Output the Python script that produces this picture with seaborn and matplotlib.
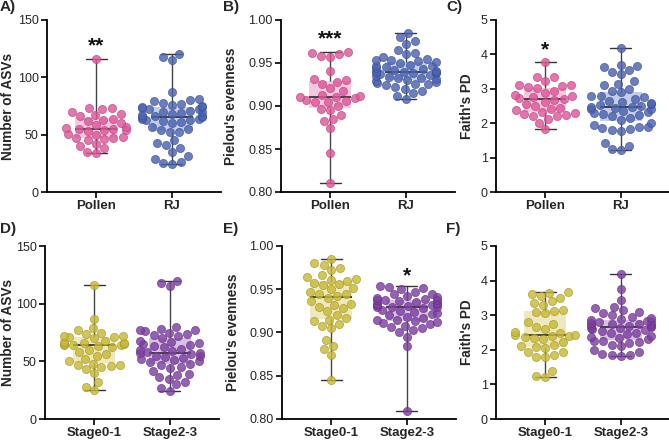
import numpy as np
import pandas as pd
import matplotlib
matplotlib.use("Agg")
import matplotlib.pyplot as plt
from matplotlib.colors import to_rgba
import seaborn as sns

# ---------------- data ----------------
pollen_asv = [34, 35, 38, 40, 42, 45, 46, 47, 47, 48, 50, 51, 53, 54, 54, 55,
              55, 56, 57, 58, 60, 62, 63, 64, 66, 67, 68, 70, 72, 73, 73, 116]
rj_asv = [24, 25, 26, 29, 31, 35, 38, 41, 43, 45, 52, 52, 54, 55, 57, 60,
          61, 62, 63, 63, 64, 64, 65, 65, 66, 66, 67, 68, 69, 70, 70, 71,
          72, 72, 73, 74, 74, 75, 76, 77, 78, 79, 80, 81, 87, 115, 118, 120]
pollen_pielou = [0.810, 0.845, 0.874, 0.882, 0.885, 0.890, 0.895, 0.897, 0.900,
                 0.905, 0.905, 0.906, 0.907, 0.909, 0.910, 0.911, 0.912, 0.913,
                 0.917, 0.921, 0.925, 0.928, 0.930, 0.931, 0.941, 0.957, 0.958,
                 0.960, 0.962, 0.963]
rj_pielou = [0.908, 0.912, 0.915, 0.918, 0.920, 0.922, 0.924, 0.925, 0.926, 0.927,
             0.928, 0.929, 0.930, 0.931, 0.932, 0.933, 0.934, 0.935, 0.936, 0.937,
             0.938, 0.938, 0.939, 0.939, 0.940, 0.940, 0.941, 0.942, 0.943, 0.944,
             0.945, 0.946, 0.947, 0.948, 0.950, 0.951, 0.952, 0.953, 0.954, 0.955,
             0.957, 0.960, 0.962, 0.965, 0.972, 0.975, 0.980, 0.985]
pollen_faith = [1.82, 2.02, 2.12, 2.20, 2.22, 2.25, 2.28, 2.30, 2.32, 2.38, 2.40,
                2.45, 2.50, 2.55, 2.62, 2.68, 2.70, 2.72, 2.75, 2.78, 2.82, 2.88,
                2.95, 3.02, 3.05, 3.08, 3.10, 3.12, 3.22, 3.33, 3.35, 3.77]
rj_faith = [1.22, 1.24, 1.35, 1.42, 1.78, 1.80, 1.82, 1.85, 1.88, 1.90, 1.95, 2.00,
            2.10, 2.15, 2.20, 2.25, 2.28, 2.30, 2.32, 2.35, 2.40, 2.42, 2.45, 2.46,
            2.48, 2.50, 2.52, 2.55, 2.58, 2.62, 2.65, 2.70, 2.75, 2.78, 2.80, 2.90,
            2.95, 3.00, 3.10, 3.15, 3.22, 3.42, 3.48, 3.55, 3.62, 3.66, 3.70, 4.20]

s01_asv = [25, 28, 32, 40, 43, 45, 46, 47, 47, 48, 50, 52, 55, 56, 58, 60, 62, 63,
           64, 64, 64, 65, 65, 66, 66, 67, 68, 70, 71, 71, 72, 72, 74, 75, 77, 79,
           87, 116]
s23_asv = [24, 27, 30, 32, 35, 36, 38, 39, 42, 44, 45, 47, 48, 49, 50, 51, 52, 53,
           54, 55, 55, 56, 57, 57, 58, 59, 60, 61, 62, 63, 64, 65, 66, 67, 68, 70,
           72, 73, 74, 75, 76, 77, 77, 78, 80, 115, 118, 120]
s01_pielou = [0.845, 0.874, 0.881, 0.884, 0.891, 0.905, 0.908, 0.910, 0.913, 0.915,
              0.917, 0.920, 0.925, 0.928, 0.930, 0.932, 0.933, 0.936, 0.940, 0.942,
              0.944, 0.945, 0.947, 0.950, 0.952, 0.955, 0.956, 0.957, 0.960, 0.961,
              0.962, 0.964, 0.966, 0.972, 0.975, 0.978, 0.980, 0.985]
s23_pielou = [0.809, 0.884, 0.895, 0.900, 0.903, 0.905, 0.906, 0.908, 0.910, 0.911,
              0.912, 0.913, 0.914, 0.915, 0.917, 0.918, 0.920, 0.921, 0.922, 0.924,
              0.925, 0.926, 0.928, 0.929, 0.930, 0.930, 0.931, 0.932, 0.932, 0.933,
              0.933, 0.934, 0.935, 0.936, 0.937, 0.937, 0.938, 0.939, 0.940, 0.941,
              0.942, 0.944, 0.945, 0.947, 0.950, 0.952, 0.953, 0.954]
s01_faith = [1.22, 1.25, 1.40, 1.78, 1.80, 1.85, 1.93, 1.95, 2.05, 2.08, 2.10, 2.15,
             2.22, 2.30, 2.35, 2.38, 2.40, 2.40, 2.42, 2.43, 2.48, 2.52, 2.60, 2.65,
             2.75, 2.80, 3.05, 3.10, 3.12, 3.15, 3.30, 3.35, 3.40, 3.50, 3.55, 3.62,
             3.65, 3.66]
s23_faith = [1.82, 1.84, 1.85, 1.88, 1.95, 2.00, 2.10, 2.15, 2.20, 2.22, 2.25, 2.26,
             2.30, 2.35, 2.38, 2.40, 2.45, 2.48, 2.50, 2.55, 2.58, 2.60, 2.62, 2.64,
             2.66, 2.68, 2.70, 2.72, 2.74, 2.75, 2.76, 2.78, 2.80, 2.82, 2.83, 2.85,
             2.90, 2.92, 2.95, 3.00, 3.05, 3.10, 3.15, 3.20, 3.25, 3.45, 3.75, 4.20]

groups_top = ["Pollen", "RJ"]
groups_bot = ["Stage0-1", "Stage2-3"]
panel_letters = ["A)", "B)", "C)", "D)", "E)", "F)"]
ylabels = ["Number of ASVs", "Pielou's evenness", "Faith's PD"]
yticks_list = [[0, 50, 100, 150], [0.80, 0.85, 0.90, 0.95, 1.00], [0, 1, 2, 3, 4, 5]]
yfmt = ["{:.0f}", "{:.2f}", "{:.0f}"]
# significance marks: (group index, value, text)
sig_top = [(0, 127, "**"), (0, 0.978, "***"), (0, 4.12, "*")]
sig_bot = [None, (1, 0.965, "*"), None]

colors = {"Pollen": "#E0559A", "RJ": "#4A63B3",
          "Stage0-1": "#C9BA33", "Stage2-3": "#7E3FA3"}

# ---------------- style ----------------
sns.set_style("ticks")
plt.rcParams["font.family"] = ["Liberation Sans", "DejaVu Sans"]

fig = plt.figure(figsize=(6.69, 4.44), dpi=100)

W, H = 669, 444
lefts_top = [47, 281, 496]
lefts_bot = [45, 282, 496]
label_off_top = [32, 43, 22]
label_off_bot = [30, 42, 22]
width_px = 174
rows = [(20, 192), (246, 419)]

data_top = [(pollen_asv, rj_asv), (pollen_pielou, rj_pielou), (pollen_faith, rj_faith)]
data_bot = [(s01_asv, s23_asv), (s01_pielou, s23_pielou), (s01_faith, s23_faith)]


def draw_panel(ax, vals, groups, col, sig, label_off):
    df = pd.DataFrame({
        "group": [groups[0]] * len(vals[0]) + [groups[1]] * len(vals[1]),
        "value": list(vals[0]) + list(vals[1]),
    })
    pal = {g: colors[g] for g in groups}
    sns.boxplot(data=df, x="group", y="value", hue="group", palette=pal,
                order=groups, whis=(0, 100), width=0.55, showfliers=False,
                linecolor="#333333", linewidth=1.0, legend=False, ax=ax,
                medianprops=dict(color="#1a1a1a", linewidth=1.1),
                whiskerprops=dict(color="#444444", linewidth=1.0),
                capprops=dict(color="#333333", linewidth=1.0))
    for patch, g in zip(ax.patches, groups):
        patch.set_facecolor(to_rgba(colors[g], 0.32))
        patch.set_edgecolor("none")
    edge = {g: tuple(c * 0.8 for c in to_rgba(colors[g])[:3]) for g in groups}
    for i, g in enumerate(groups):
        sub = df[df["group"] == g]
        sns.swarmplot(data=sub, x="group", y="value", order=groups,
                      color=colors[g], size=5.9, alpha=0.82,
                      edgecolor=edge[g], linewidth=0.5, ax=ax, zorder=3,
                      warn_thresh=1.0)
    ax.set_xlim(-0.65, 1.65)
    ax.set_ylim(yticks_list[col][0], yticks_list[col][-1])
    ax.set_yticks(yticks_list[col])
    ax.set_yticklabels([yfmt[col].format(t) for t in yticks_list[col]], fontsize=9)
    ax.set_xticks([0, 1])
    ax.set_xticklabels(groups, fontsize=9.5, fontweight="bold")
    ax.set_xlabel("")
    ax.set_ylabel(ylabels[col], fontsize=9.8, fontweight="bold")
    ax.yaxis.set_label_coords(-label_off / width_px, 0.5)
    for side in ["top", "right"]:
        ax.spines[side].set_visible(False)
    for side in ["left", "bottom"]:
        ax.spines[side].set_linewidth(1.3)
        ax.spines[side].set_color("black")
    ax.tick_params(axis="both", length=4, width=1.2, color="black", pad=2)
    ax.set_facecolor("white")
    if sig is not None:
        gi, yv, txt = sig
        ax.text(gi, yv, txt, ha="center", va="center", fontsize=15,
                fontweight="bold", color="#111111")


for r, (row_data, groups, lefts, sigs, offs) in enumerate(
        [(data_top, groups_top, lefts_top, sig_top, label_off_top),
         (data_bot, groups_bot, lefts_bot, sig_bot, label_off_bot)]):
    top_px, bot_px = rows[r]
    for c in range(3):
        ax = fig.add_axes([lefts[c] / W, 1 - bot_px / H, width_px / W,
                           (bot_px - top_px) / H])
        draw_panel(ax, row_data[c], groups, c, sigs[c], offs[c])

label_pos = [(0.0, 0.984), (0.333, 0.984), (0.667, 0.984),
             (0.0, 0.484), (0.333, 0.484), (0.667, 0.484)]
for (x, y), lab in zip(label_pos, panel_letters):
    fig.text(x, y, lab, ha="left", va="center", fontsize=11, fontweight="bold")

fig.savefig("out.png", dpi=100, facecolor="white")
